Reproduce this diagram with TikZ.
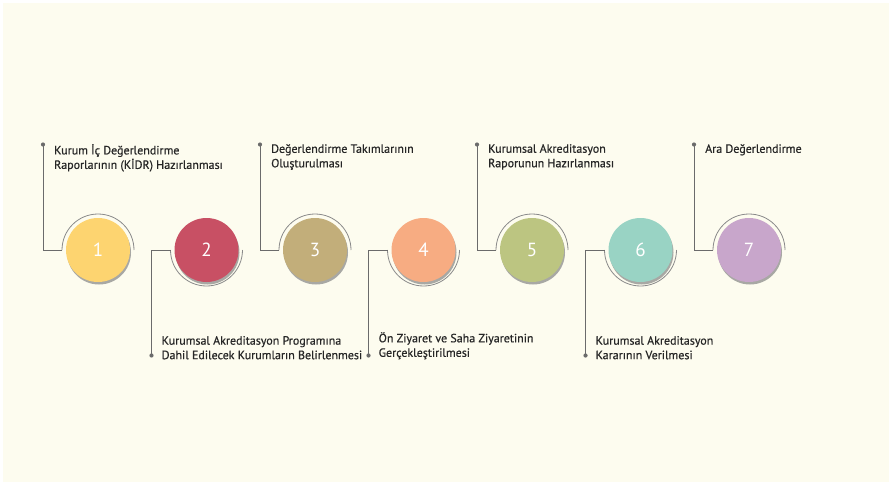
\documentclass[tikz,border=0pt]{standalone}
\usepackage{fontspec}
\setmainfont{PT Sans}
\newfontfamily\tagfont{PT Sans}[FakeBold=0.5]
\usetikzlibrary{calc}

\definecolor{paper}{HTML}{FDFCEF}
\definecolor{leadgray}{HTML}{6B6B6B}
\definecolor{ringgray}{HTML}{8A8A8A}
\definecolor{shadegray}{HTML}{A8A8A4}
\definecolor{inkgray}{HTML}{262626}
\definecolor{stepA}{HTML}{FDD470}
\definecolor{stepB}{HTML}{C85064}
\definecolor{stepC}{HTML}{C2AE7A}
\definecolor{stepD}{HTML}{F7AC82}
\definecolor{stepE}{HTML}{BCC581}
\definecolor{stepF}{HTML}{99D3C4}
\definecolor{stepG}{HTML}{C8A6CB}

\tikzset{
  stepdisc/.style={circle, minimum size=64pt, inner sep=0pt, text=white,
    font=\fontsize{19}{19}\selectfont},
  ring/.style={draw=ringgray, line width=0.8pt},
  leader/.style={draw=leadgray, line width=0.9pt},
  steptext/.style={align=left, inner sep=0pt, text=inkgray,
    font=\tagfont\fontsize{12}{14.5}\selectfont},
}

\begin{document}
\begin{tikzpicture}[x=1pt, y=1pt]
	\useasboundingbox (0,-235) rectangle (892,250);
	\fill[white] (0,-235) rectangle (892,250);
	\fill[paper] (3,-232) rectangle (889,247);
	% seven steps, odd ones tagged above, even ones below
	\foreach \n/\col/\side/\txt in {
		1/stepA/1/{Kurum İç Değerlendirme\\Raporlarının (KİDR) Hazırlanması},
		2/stepB/-1/{Kurumsal Akreditasyon Programına\\Dahil Edilecek Kurumların Belirlenmesi},
		3/stepC/1/{Değerlendirme Takımlarının\\Oluşturulması},
		4/stepD/-1/{Ön Ziyaret ve Saha Ziyaretinin\\Gerçekleştirilmesi},
		5/stepE/1/{Kurumsal Akreditasyon\\Raporunun Hazırlanması},
		6/stepF/-1/{Kurumsal Akreditasyon\\Kararının Verilmesi},
		7/stepG/1/{Ara Değerlendirme}} {
		\pgfmathsetmacro\cx{98+108.5*(\n-1)}
		\fill[shadegray] (\cx+1,-2.5) circle (32);
		\node[stepdisc, fill=\col] (c\n) at (\cx,0) {\n};
		\draw[ring] (c\n.center) ++(180:36) arc[start angle=180, delta angle=-180*\side, radius=36];
		\coordinate (a\n) at ($(c\n.center)+(-36,0)$);
		\coordinate (k\n) at ($(c\n.center)+(-55,0)$);
		\coordinate (d\n) at ($(k\n)+(0,105.5*\side)$);
		\draw[leader] (a\n) -- (k\n) -- (d\n);
		\fill[leadgray] (d\n) circle (2.1);
		\ifnum\side=1
			\node[steptext, anchor=north west] (t\n) at ($(d\n)+(11,0.5)$) {\txt};
		\else
			\node[steptext, anchor=south west] (t\n) at ($(d\n)+(10,-4)$) {\txt};
		\fi
	}
\end{tikzpicture}
\end{document}
